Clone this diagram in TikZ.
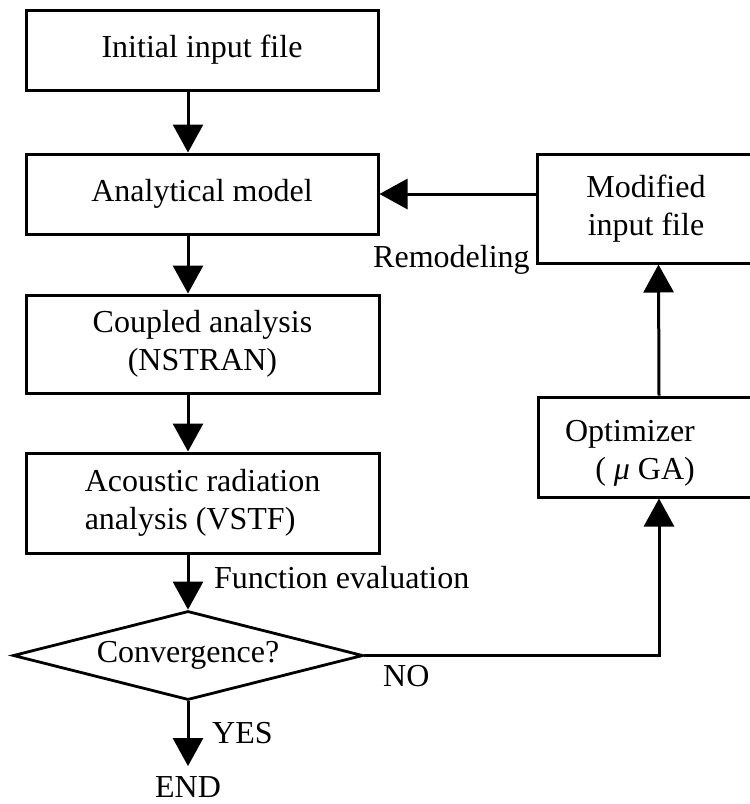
\documentclass[tikz,border=0pt]{standalone}
\usepackage{fontspec}
\setmainfont{Liberation Serif}
\usetikzlibrary{arrows.meta,shapes.geometric}
\begin{document}
\begin{tikzpicture}[x=1pt,y=-1pt,
  every node/.style={font=\fontsize{32}{38}\selectfont},
  box/.style={draw, line width=3pt, rectangle, inner sep=0pt, align=center},
  decision/.style={draw, line width=2.8pt, diamond, aspect=3.93,
    minimum width=350pt, minimum height=89pt, inner sep=0pt},
  flow/.style={line width=3pt, -{Triangle[width=30pt,length=28pt]}},
  tag/.style={inner sep=0pt, anchor=base west}]
\useasboundingbox (0,0) rectangle (750,804);
\clip (0,0) rectangle (750,804);

% main column
\node[box, minimum width=352pt, minimum height=80pt] (init) at (202,50) {Initial input file};
\node[box, minimum width=352pt, minimum height=80pt] (anal) at (202,194) {Analytical model};
\node[box, minimum width=353pt, minimum height=98pt] (coup) at (202.5,344) {Coupled analysis\\(NSTRAN)};
\node[box, align=left, minimum width=353pt, minimum height=100pt] (acou) at (202.5,503) {Acoustic radiation\\analysis (VSTF)};
\node[decision] (conv) at (188,655.5) {Convergence?};
\node[inner sep=0pt, outer ysep=10pt, anchor=base] (endn) at (188,797) {END};

% optimisation loop
\node[box, minimum width=243pt, minimum height=109pt] (modi) at (658.5,208.5) {};
\node[align=center, inner sep=0pt] (moditxt) at (646,208.5) {Modified\\input file};
\node[box, minimum width=242pt, minimum height=100pt] (opti) at (659,447) {};
\node[align=right, inner sep=0pt] (optitxt) at (630,453) {Optimizer\\(~\textit{μ}~GA)};

% connectors
\draw[flow] (init.south -| conv.north) -- (anal.north -| conv.north);
\draw[flow] (anal.south -| conv.north) -- (coup.north -| conv.north);
\draw[flow] (coup.south -| conv.north) -- (acou.north -| conv.north);
\draw[flow] (acou.south -| conv.north) -- (conv.north);
\draw[flow] (conv.south) -- (endn.north);
\draw[flow] (conv.east) -| (opti.south);
\draw[flow] (opti.north) -- (modi.south);
\draw[flow] (modi.west |- anal.east) -- (anal.east);

% connector labels
\node[tag] (remlbl) at (373,267) {Remodeling};
\node[tag] (fnlbl) at (214,588) {Function evaluation};
\node[tag] (yeslbl) at (212,743) {YES};
\node[tag] (nolbl) at (383,686) {NO};
\end{tikzpicture}
\end{document}
